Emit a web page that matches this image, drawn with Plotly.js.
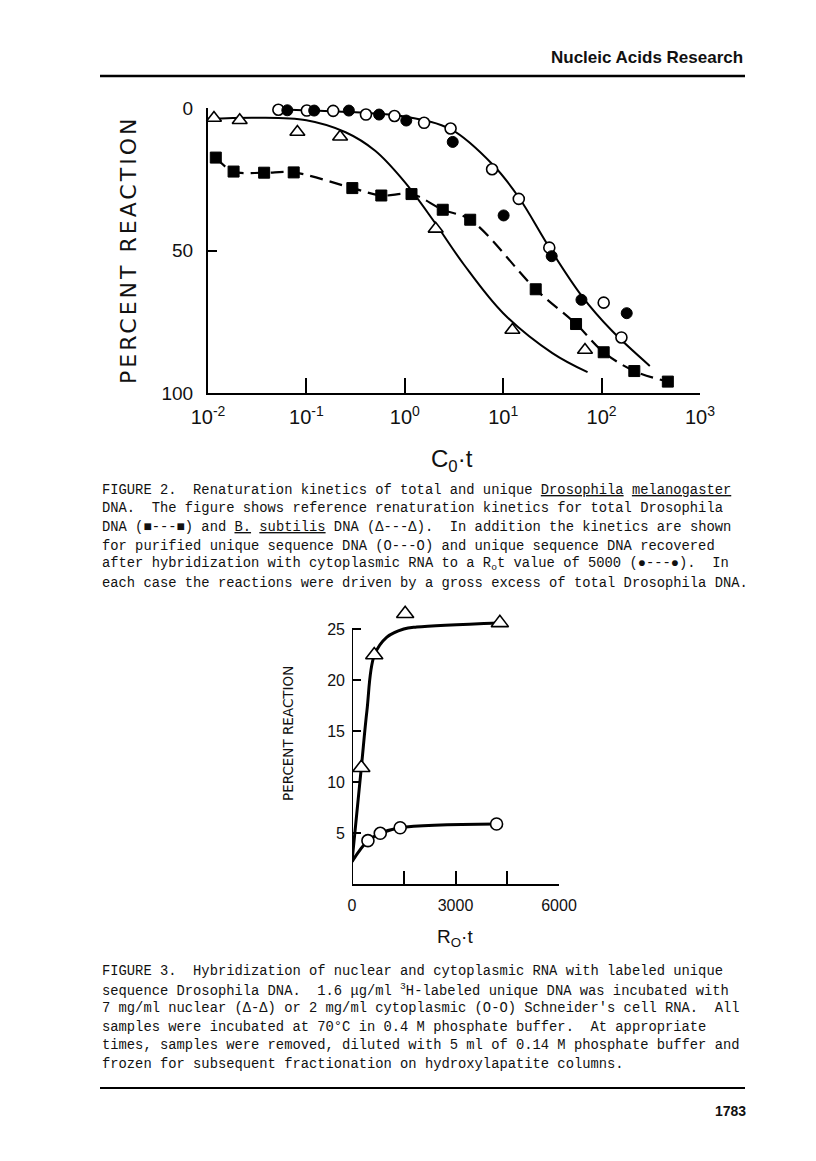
<!DOCTYPE html>
<html>
<head>
<meta charset="utf-8">
<script src="https://cdn.plot.ly/plotly-3.0.1.min.js"></script>
<style>
  body { margin: 0; background: #fff; }
  #page { width: 816px; height: 1161px; }
</style>
</head>
<body>
<div id="page"></div>
<script>
// Figure 2 : renaturation kinetics (Cot, percent reaction)
const uniqueCot = [0.0519, 0.101, 0.187, 0.403, 0.785, 1.57, 2.92, 7.71, 14.4, 29.4, 105, 159];
const uniquePct = [0.6, 0.9, 1.0, 2.3, 2.8, 5.2, 7.2, 21.5, 31.9, 49, 68.3, 80.5];

const hybCot = [0.064, 0.12, 0.27, 0.548, 1.035, 3.07, 10.1, 31.1, 62.4, 180];
const hybPct = [0.8, 0.9, 0.9, 2.3, 4.4, 11.9, 37.7, 52, 67.3, 72];

const subtilisCot = [0.0115, 0.021, 0.081, 0.22, 2.06, 12.4, 67.8];
const subtilisPct = [3.5, 4.3, 8.4, 10.1, 42.4, 77.9, 84.9];

const totalCot = [0.012, 0.0182, 0.0372, 0.0743, 0.293, 0.577, 1.17, 2.43, 4.62, 21.4, 55, 105, 215, 471];
const totalPct = [17.4, 22.3, 22.7, 22.6, 28.1, 30.7, 30.2, 35.7, 39.2, 63.6, 75.8, 85.7, 92.3, 96];

// hand-drawn fitted curves
const uniqueFitCot = [0.05, 0.316, 1, 2.95, 7.9, 14.5, 29.5, 63, 126, 309];
const uniqueFitPct = [0.5, 1.5, 3, 7.5, 20, 31.5, 49, 66, 78, 90.5];
const subtilisFitCot = [0.01, 0.0316, 0.1, 0.25, 0.5, 1, 2, 4, 10, 31.6, 72];
const subtilisFitPct = [3.8, 3.4, 4.3, 8.5, 15, 26, 40, 55, 72, 86, 92.7];

const cotTicks = [0.01, 0.1, 1, 10, 100, 1000];
const cotLabels = ['10<sup>-2</sup>', '10<sup>-1</sup>', '10<sup>0</sup>', '10<sup>1</sup>', '10<sup>2</sup>', '10<sup>3</sup>'];
const pctTicks = [0, 50, 100];

// Figure 3 : hybridization with RNA (Rot, percent reaction)
const nuclearRot = [270, 645, 1541, 4286];
const nuclearPct = [11.4, 22.45, 26.5, 25.6];
const cytoRot = [462, 819, 1396, 4190];
const cytoPct = [4.25, 4.97, 5.52, 5.88];

const nuclearFitRot = [0, 270, 433, 645, 1011, 1500, 1878, 4286];
const nuclearFitPct = [2.2, 11.4, 17, 22.4, 24.2, 25.0, 25.2, 25.6];
const cytoFitRot = [0, 462, 819, 1396, 4190];
const cytoFitPct = [2.2, 4.25, 4.97, 5.52, 5.88];

const rotTicks = [0, 1500, 3000, 4500, 6000];
const rotLabels = ['0', '', '3000', '', '6000'];
const pct3Ticks = [5, 10, 15, 20, 25];
const pct3Top = 25;

const W = 816, H = 1161;
const px = v => v / W;
const py = v => 1 - v / H;
const tickFont = { family: 'Liberation Sans', size: 20, color: '#111' };

const openMk = (sym, size) => ({ symbol: sym, size: size, color: '#fff', line: { color: '#000', width: 1.6 } });
const fillMk = (sym, size) => ({ symbol: sym, size: size, color: '#000', line: { color: '#000', width: 1 } });

const data = [
  { x: subtilisFitCot, y: subtilisFitPct, mode: 'lines', line: { color: '#000', width: 2, shape: 'spline' }, xaxis: 'x', yaxis: 'y' },
  { x: uniqueFitCot, y: uniqueFitPct, mode: 'lines', line: { color: '#000', width: 2, shape: 'spline' }, xaxis: 'x', yaxis: 'y' },
  { x: totalCot, y: totalPct, mode: 'lines', line: { color: '#000', width: 2.2, shape: 'spline', dash: '13px,7px' }, xaxis: 'x', yaxis: 'y' },
  { x: totalCot, y: totalPct, mode: 'markers', marker: fillMk('square', 11), cliponaxis: false, xaxis: 'x', yaxis: 'y' },
  { x: subtilisCot, y: subtilisPct, mode: 'markers', marker: openMk('triangle-up', 13), cliponaxis: false, xaxis: 'x', yaxis: 'y' },
  { x: uniqueCot, y: uniquePct, mode: 'markers', marker: openMk('circle', 11), cliponaxis: false, xaxis: 'x', yaxis: 'y' },
  { x: hybCot, y: hybPct, mode: 'markers', marker: fillMk('circle', 11), cliponaxis: false, xaxis: 'x', yaxis: 'y' },

  { x: nuclearFitRot, y: nuclearFitPct, mode: 'lines', line: { color: '#000', width: 3, shape: 'spline' }, xaxis: 'x2', yaxis: 'y2' },
  { x: cytoFitRot, y: cytoFitPct, mode: 'lines', line: { color: '#000', width: 3, shape: 'spline' }, xaxis: 'x2', yaxis: 'y2' },
  { x: nuclearRot, y: nuclearPct, mode: 'markers', marker: openMk('triangle-up', 15), cliponaxis: false, xaxis: 'x2', yaxis: 'y2' },
  { x: cytoRot, y: cytoPct, mode: 'markers', marker: openMk('circle', 12), cliponaxis: false, xaxis: 'x2', yaxis: 'y2' }
];

const axisBase = {
  showline: true, linecolor: '#000', linewidth: 2, showgrid: false, zeroline: false,
  ticks: 'inside', tickcolor: '#000', tickwidth: 2, mirror: false, fixedrange: true
};

const sp = '\u00A0';
const cap2 = [
  'FIGURE 2.' + sp + sp + 'Renaturation kinetics of total and unique <u>Drosophila</u> <u>melanogaster</u>',
  'DNA.' + sp + sp + 'The figure shows reference renaturation kinetics for total Drosophila',
  'DNA (■---■) and <u>B.</u> <u>subtilis</u> DNA (Δ---Δ).' + sp + sp + 'In addition the kinetics are shown',
  'for purified unique sequence DNA (O---O) and unique sequence DNA recovered',
  'after hybridization with cytoplasmic RNA to a R<sub>o</sub>t value of 5000 (●---●).' + sp + sp + 'In',
  'each case the reactions were driven by a gross excess of total Drosophila DNA.'
];
const cap3 = [
  'FIGURE 3.' + sp + sp + 'Hybridization of nuclear and cytoplasmic RNA with labeled unique',
  'sequence Drosophila DNA.' + sp + sp + '1.6 μg/ml <sup>3</sup>H-labeled unique DNA was incubated with',
  '7 mg/ml nuclear (Δ-Δ) or 2 mg/ml cytoplasmic (O-O) Schneider\'s cell RNA.' + sp + sp + 'All',
  'samples were incubated at 70°C in 0.4 M phosphate buffer.' + sp + sp + 'At appropriate',
  'times, samples were removed, diluted with 5 ml of 0.14 M phosphate buffer and',
  'frozen for subsequent fractionation on hydroxylapatite columns.'
];
const capFont = { family: 'Liberation Mono', size: 13.8, color: '#111' };
const capAnn = (lines, top) => lines.map((t, i) => ({
  xref: 'paper', yref: 'paper', x: px(100), y: py(top + i * 18.7), xanchor: 'left', yanchor: 'middle',
  text: t.replace(/ /g, sp), showarrow: false, font: capFont, align: 'left'
}));

const layout = {
  width: W, height: H,
  margin: { l: 0, r: 0, t: 0, b: 0 },
  paper_bgcolor: '#fff', plot_bgcolor: 'rgba(0,0,0,0)',
  showlegend: false,
  xaxis: Object.assign({}, axisBase, {
    type: 'log', range: [-2, 3], domain: [px(208), px(700)], anchor: 'y',
    tickvals: cotTicks, ticktext: cotLabels, ticklen: 15, tickfont: tickFont, ticklabelstandoff: 5
  }),
  yaxis: Object.assign({}, axisBase, {
    range: [100, 0], domain: [py(393), py(108)], anchor: 'x',
    tickvals: pctTicks, ticktext: ['0', '50', '100'], ticklen: 9, tickfont: Object.assign({}, tickFont, { size: 19 }),
    ticklabelstandoff: 9
  }),
  xaxis2: Object.assign({}, axisBase, {
    range: [0, 6000], domain: [px(352), px(559)], anchor: 'y2',
    tickvals: rotTicks, ticktext: rotLabels, ticklen: 13, tickfont: Object.assign({}, tickFont, { size: 16 }),
    ticklabelstandoff: 6
  }),
  // range runs a little past 25 so the top triangles and curve are not clipped;
  // the visible axis line is drawn as a shape up to 25 only
  yaxis2: Object.assign({}, axisBase, {
    showline: false,
    range: [0, 27.5], domain: [py(884), py(603.5)], anchor: 'x2',
    tickvals: pct3Ticks, ticklen: 9, tickfont: Object.assign({}, tickFont, { size: 16 }),
    ticklabelstandoff: 6
  }),
  shapes: [
    { type: 'line', xref: 'paper', yref: 'paper', x0: px(100), x1: px(745), y0: py(76), y1: py(76), line: { color: '#000', width: 2.5 } },
    { type: 'line', xref: 'paper', yref: 'paper', x0: px(100), x1: px(745), y0: py(1088), y1: py(1088), line: { color: '#000', width: 2 } },
    { type: 'line', xref: 'x2', yref: 'y2', x0: 0, x1: 0, y0: 0, y1: pct3Top, line: { color: '#000', width: 2 } }
  ],
  annotations: [
    { xref: 'paper', yref: 'paper', x: px(745), y: py(57), xanchor: 'right', yanchor: 'middle', showarrow: false,
      text: '<b>Nucleic Acids Research</b>', font: { family: 'Liberation Sans', size: 17, color: '#111' } },
    { xref: 'paper', yref: 'paper', x: px(748), y: py(1111), xanchor: 'right', yanchor: 'middle', showarrow: false,
      text: '<b>1783</b>', font: { family: 'Liberation Sans', size: 14, color: '#111' } },
    { xref: 'paper', yref: 'paper', x: px(128), y: py(250), xanchor: 'center', yanchor: 'middle', showarrow: false, textangle: -90,
      text: '<span style="letter-spacing:3px">PERCENT REACTION</span>', font: { family: 'DejaVu Sans', size: 22, color: '#111' } },
    { xref: 'paper', yref: 'paper', x: px(452), y: py(460), xanchor: 'center', yanchor: 'middle', showarrow: false,
      text: 'C<sub>0</sub>·t', font: { family: 'Liberation Sans', size: 24, color: '#111' } },
    { xref: 'paper', yref: 'paper', x: px(288), y: py(734), xanchor: 'center', yanchor: 'middle', showarrow: false, textangle: -90,
      text: 'PERCENT REACTION', font: { family: 'DejaVu Sans', size: 13.5, color: '#111' } },
    { xref: 'paper', yref: 'paper', x: px(455), y: py(938), xanchor: 'center', yanchor: 'middle', showarrow: false,
      text: 'R<sub>O</sub>·t', font: { family: 'Liberation Sans', size: 19, color: '#111' } }
  ].concat(capAnn(cap2, 490), capAnn(cap3, 971))
};

Plotly.newPlot('page', data, layout, { staticPlot: true });
</script>
</body>
</html>
